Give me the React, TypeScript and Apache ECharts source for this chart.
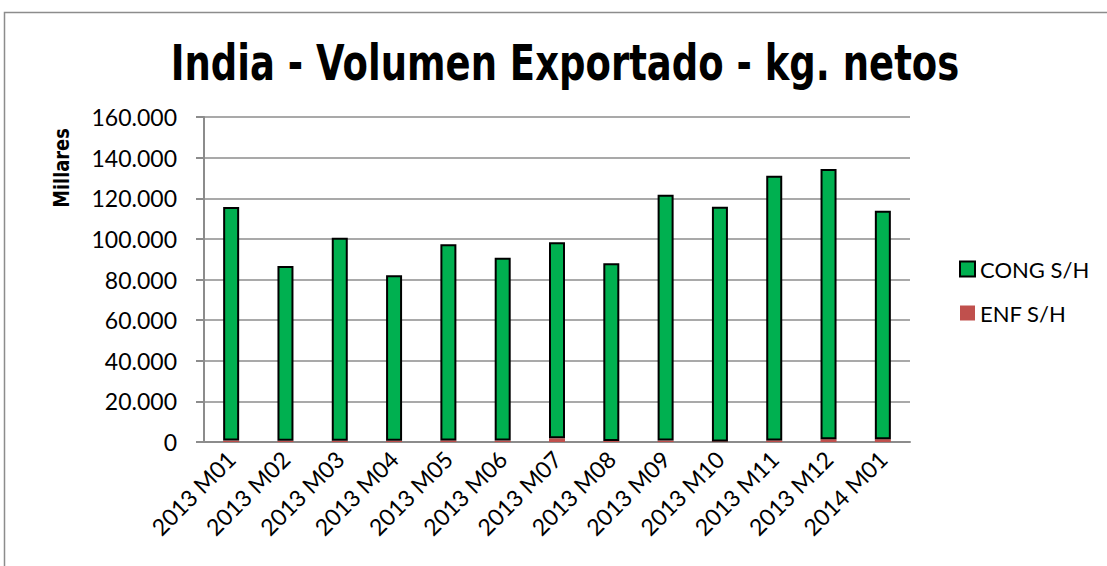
import React, { useEffect, useRef } from "react";
import * as echarts from "echarts";

const categories = [
  "2013 M01", "2013 M02", "2013 M03", "2013 M04", "2013 M05", "2013 M06", "2013 M07",
  "2013 M08", "2013 M09", "2013 M10", "2013 M11", "2013 M12", "2014 M01",
];
const congSH = [115000, 86000, 100000, 81500, 96500, 90000, 96500, 87500, 121000, 115500, 130300, 133000, 112500];
const enfSH = [700, 600, 600, 600, 800, 700, 1800, 500, 700, 300, 800, 1400, 1400];
const yTicks = [0, 20000, 40000, 60000, 80000, 100000, 120000, 140000, 160000];

const fmt = (v: number) => (v === 0 ? "0" : v.toLocaleString("en-US").replace(/,/g, "."));

export default function App() {
  const ref = useRef<HTMLDivElement>(null);
  useEffect(() => {
    const chart = echarts.init(ref.current!, null, { renderer: "svg" });
    const labelFont = "Lato, 'Open Sans', sans-serif";
    chart.setOption({
      animation: false,
      backgroundColor: "#ffffff",
      graphic: [
        {
          type: "rect",
          shape: { x: 4.5, y: 12.5, width: 1200, height: 700 },
          style: { fill: "none", stroke: "#8c8c8c", lineWidth: 1.5 },
          silent: true,
        },
        {
          type: "text",
          x: 565,
          y: 62,
          scaleX: 0.74,
          style: {
            text: "India - Volumen Exportado - kg. netos",
            fontFamily: "'DejaVu Sans', sans-serif",
            fontWeight: "bold",
            fontSize: 50,
            fill: "#000",
            align: "center",
            verticalAlign: "middle",
          },
        },
        {
          type: "text",
          x: 51,
          y: 168,
          rotation: Math.PI / 2,
          scaleX: 0.85,
          style: {
            text: "Millares",
            fontFamily: "'DejaVu Sans', sans-serif",
            fontWeight: "bold",
            fontSize: 21,
            fill: "#000",
            align: "center",
            verticalAlign: "top",
          },
        },
      ],
      legend: {
        orient: "vertical",
        left: 954,
        top: 253,
        icon: "rect",
        itemWidth: 15,
        itemHeight: 15,
        itemGap: 22,
        data: ["CONG S/H", "ENF S/H"],
        textStyle: { fontFamily: labelFont, fontSize: 22, color: "#000" },
      },
      grid: { left: 204, right: 197, top: 117, bottom: 124, containLabel: false },
      xAxis: {
        type: "category",
        data: categories,
        axisLine: { lineStyle: { color: "#8c8c8c", width: 2 } },
        axisTick: { length: 7, lineStyle: { color: "#8c8c8c", width: 2 } },
        axisLabel: {
          rotate: 45,
          margin: 13,
          fontFamily: labelFont,
          fontSize: 23,
          color: "#000",
        },
      },
      yAxis: {
        type: "value",
        min: 0,
        max: 160000,
        interval: 20000,
        axisLine: { show: true, lineStyle: { color: "#8c8c8c", width: 2 } },
        axisTick: { show: true, length: 8, lineStyle: { color: "#8c8c8c", width: 2 } },
        splitLine: { lineStyle: { color: "#8c8c8c", width: 1.5 } },
        axisLabel: {
          margin: 27,
          fontFamily: labelFont,
          fontSize: 23,
          color: "#000",
          formatter: (v: number) => (yTicks.includes(v) ? fmt(v) : ""),
        },
      },
      series: [
        {
          name: "ENF S/H",
          type: "bar",
          stack: "total",
          data: enfSH,
          barWidth: 16,
          itemStyle: { color: "#c0504d" },
        },
        {
          name: "CONG S/H",
          type: "bar",
          stack: "total",
          data: congSH,
          barWidth: 16,
          itemStyle: { color: "#00b050", borderColor: "#000", borderWidth: 2 },
        },
      ],
    });
    return () => chart.dispose();
  }, []);
  return (
    <div
      ref={ref}
      style={{ position: "absolute", left: 0, top: 0, width: 1107, height: 566 }}
    />
  );
}
